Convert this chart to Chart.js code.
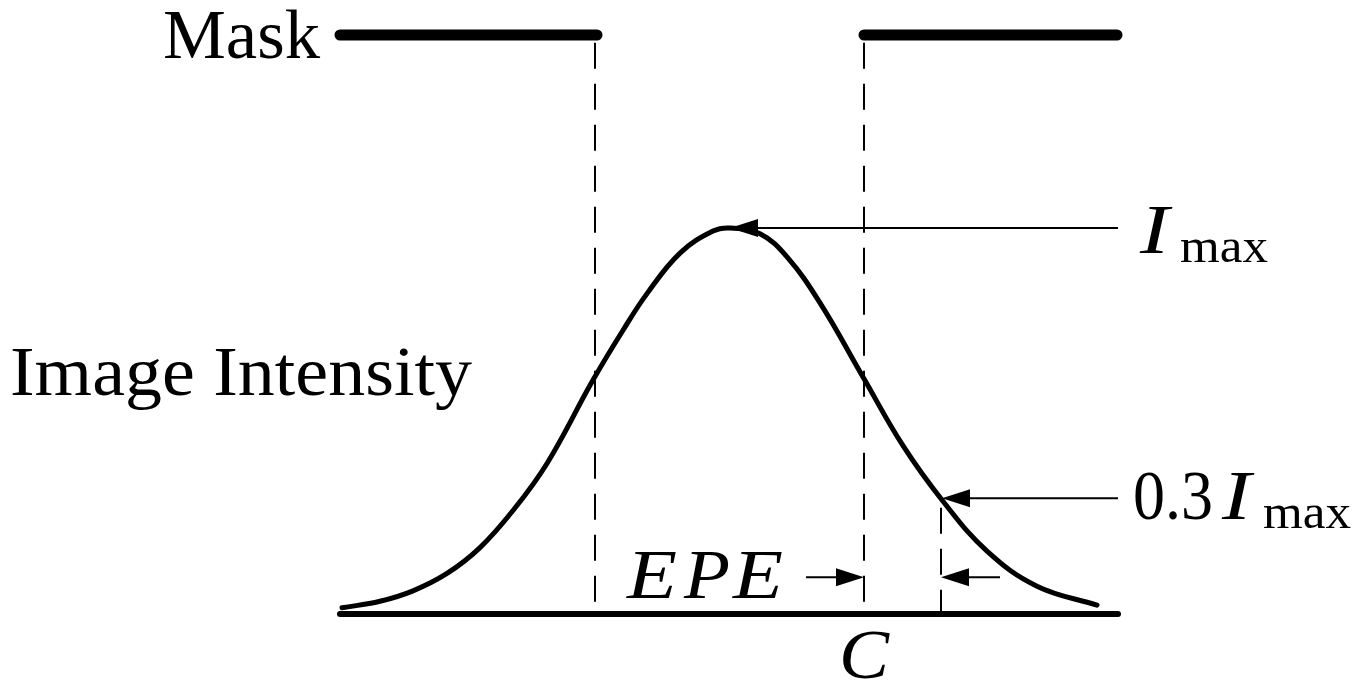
<!DOCTYPE html>
<html>
<head>
<meta charset="utf-8">
<script src="https://cdn.jsdelivr.net/npm/chart.js@4/dist/chart.umd.min.js"></script>
<style>
  html, body { margin: 0; padding: 0; background: #fff; }
  #fig { display: block; }
</style>
</head>
<body>
<canvas id="fig" width="1358" height="685"></canvas>
<script>
// position along the wafer (arbitrary units) and normalised intensity (I / Imax)
var curveX = [342, 380, 413, 447, 480, 513, 547, 593, 623, 647, 680, 713, 730, 760, 787, 820, 863, 903, 943, 987, 1037, 1097];
var curveI = [0.016, 0.033, 0.06, 0.105, 0.172, 0.268, 0.39, 0.606, 0.735, 0.83, 0.935, 0.992, 1.0, 0.985, 0.925, 0.806, 0.614, 0.436, 0.292, 0.163, 0.072, 0.023];

var maskLeft = [340, 597];     // opaque mask segment
var maskRight = [864, 1117];   // opaque mask segment
var maskLevel = 1.5;
var axisSpan = [340, 1118];    // position axis drawn under the curve
var edgeLeft = 595;            // mask edges
var edgeC = 864;               // target edge C
var printedEdge = 941;         // where image crosses the threshold
var threshold = 0.3;           // 0.3 Imax
var peakX = 730;
var labelX = 1118;             // where the pointer lines start

function pts(xs, ys) {
    return xs.map(function(x, i) { return { x: x, y: ys[i] }; });
}

var ctx = document.getElementById('fig');

var arrowsAndText = {
    id: 'arrowsAndText',
    afterDatasetsDraw: function(chart) {
        var c = chart.ctx;
        var sx = chart.scales.x, sy = chart.scales.y;
        var px = function(v) { return sx.getPixelForValue(v); };
        var py = function(v) { return sy.getPixelForValue(v); };

        // arrow heads (filled triangles), tip at (x, y), dir = +1 points right
        function head(x, y, dir) {
            var tx = px(x), ty = py(y);
            c.beginPath();
            c.moveTo(tx, ty);
            c.lineTo(tx - dir * 28, ty - 9);
            c.lineTo(tx - dir * 28, ty + 9);
            c.closePath();
            c.fillStyle = '#000';
            c.fill();
        }
        head(peakX, 1.0, -1);
        head(printedEdge + 1, threshold, -1);
        head(edgeC, 0.095, 1);
        head(printedEdge, 0.095, -1);

        // text stretched to the width it has in the figure
        function txt(s, x, y, font, width) {
            c.font = font;
            var w = c.measureText(s).width;
            var k = width ? width / w : 1;
            c.save();
            c.translate(x, y);
            c.scale(k, 1);
            c.fillText(s, 0, 0);
            c.restore();
            return w * k;
        }

        c.save();
        c.fillStyle = '#000';
        c.textBaseline = 'alphabetic';
        c.textAlign = 'left';

        txt('Mask', 163, 58, '69px "Liberation Serif"', 157);
        txt('Image Intensity', 10, 395, '69px "Liberation Serif"', 462);

        // Imax
        txt('I', 1140, 253, 'italic 69px "Liberation Serif"', 29);
        txt('max', 1180, 262, '49px "Liberation Serif"', 88);

        // 0.3 Imax
        txt('0.3', 1133, 519, '69px "Liberation Serif"', 80);
        txt('I', 1222, 519, 'italic 69px "Liberation Serif"', 29);
        txt('max', 1263, 528, '49px "Liberation Serif"', 88);

        // EPE and C
        txt('E', 627, 598, 'italic 69px "Liberation Serif"', 50);
        txt('P', 684, 598, 'italic 69px "Liberation Serif"', 46);
        txt('E', 733, 598, 'italic 69px "Liberation Serif"', 50);
        txt('C', px(edgeC) - 25, 678, 'italic 69px "Liberation Serif"', 50);
        c.restore();
    }
};

var solid = { pointRadius: 0, borderColor: '#000', fill: false, tension: 0 };

new Chart(ctx, {
    type: 'line',
    data: {
        datasets: [
            Object.assign({}, solid, { data: pts(curveX, curveI), borderWidth: 5, tension: 0.4, borderCapStyle: 'round' }),
            Object.assign({ data: pts(axisSpan, [0, 0]), borderWidth: 6, borderCapStyle: 'round' }, solid),
            Object.assign({ data: pts(maskLeft, [maskLevel, maskLevel]), borderWidth: 11, borderCapStyle: 'round' }, solid),
            Object.assign({ data: pts(maskRight, [maskLevel, maskLevel]), borderWidth: 11, borderCapStyle: 'round' }, solid),
            Object.assign({ data: pts([edgeLeft, edgeLeft], [1.48, 0]), borderWidth: 2, borderDash: [26, 15] }, solid),
            Object.assign({ data: pts([edgeC, edgeC], [1.48, 0]), borderWidth: 2, borderDash: [26, 15] }, solid),
            Object.assign({ data: pts([printedEdge, printedEdge], [0.275, 0]), borderWidth: 2, borderDash: [26, 15] }, solid),
            Object.assign({ data: pts([labelX, peakX + 20], [1.0, 1.0]), borderWidth: 2 }, solid),
            Object.assign({ data: pts([labelX, printedEdge + 20], [threshold, threshold]), borderWidth: 2 }, solid),
            Object.assign({ data: pts([806, edgeC - 20], [0.095, 0.095]), borderWidth: 2 }, solid),
            Object.assign({ data: pts([1000, printedEdge + 20], [0.095, 0.095]), borderWidth: 2 }, solid)
        ]
    },
    options: {
        responsive: false,
        animation: false,
        layout: { padding: 0 },
        plugins: { legend: { display: false }, tooltip: { enabled: false } },
        scales: {
            x: { type: 'linear', display: false, min: 0, max: 1358 },
            y: { type: 'linear', display: false, min: -0.184, max: 1.5907 }
        }
    },
    plugins: [arrowsAndText]
});
</script>
</body>
</html>
